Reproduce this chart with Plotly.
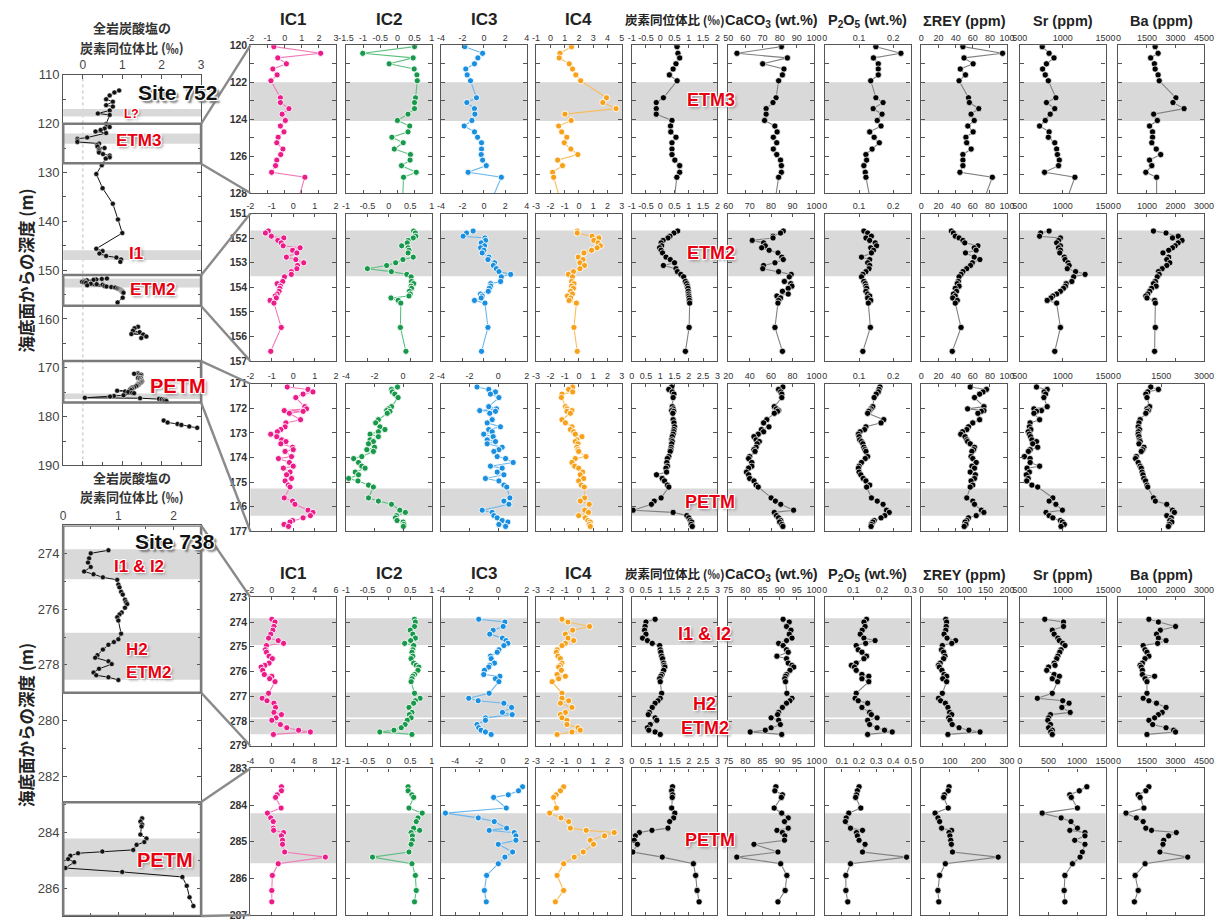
import math
import plotly.graph_objects as go

W, H = 1222, 924

# ================= DATA =================
# ---- Site 752, window 120-128 m (row 1) ----
r1_depth = [120.07, 120.43, 120.68, 121.0, 121.28, 121.6, 121.92, 122.84, 123.1, 123.43, 123.73, 124.07,
            124.37, 124.69, 124.98, 125.28, 125.62, 125.92, 126.22, 126.52, 126.88, 127.15, 128.5]
r1_ic1 = [-0.63, 2.1, -0.4, 0.1, -0.69, -0.44, -0.8, -0.25, -0.25, 0.25, -0.15, 0.04, -0.25, -0.04, -0.38,
          -0.46, -0.1, -0.23, -0.46, -0.53, -0.76, 1.18, 0.74]
r1_ic2 = [0.5, -1.01, 0.46, -0.24, 0.49, 0.57, 0.58, 0.53, 0.5, 0.5, 0.31, 0.0, 0.36, 0.31, -0.16, 0.17,
          -0.09, 0.38, 0.37, 0.12, 0.55, 0.18, 0.15]
r1_ic3 = [-1.78, -0.12, -0.56, -0.88, -1.69, -1.56, -1.25, -0.69, -1.59, -0.88, -0.84, -1.12, -1.84, -0.88,
          -0.59, -0.22, -0.22, -0.25, -0.12, 0.22, -1.47, 1.63, 0.63]
r1_ic4 = [1.48, 0.67, 0.62, 1.32, 1.55, 1.78, 2.12, 3.93, 3.67, 4.6, 1.02, 1.45, 0.58, 0.79, 1.15, 0.97,
          1.43, 1.92, 0.51, 0.85, 0.16, 0.23, 0.74]
r1_d13c = [0.59, 0.62, 0.68, 0.55, 0.45, 0.32, 0.59, 0.11, -0.14, -0.14, -0.14, 0.41, 0.36, 0.37, 0.55,
           0.41, 0.41, 0.41, 0.51, 0.68, 0.68, 0.58, 0.48]
r1_caco3 = [81, 55.1, 84.5, 70.1, 82.5, 81.6, 79.4, 77.9, 76.1, 72.1, 72.1, 71.2, 77.2, 78.5, 76.3, 78.3,
            76.3, 78.3, 80.5, 81, 81, 79.4, 77.2]
r1_p2o5 = [0.149, 0.222, 0.142, 0.156, 0.156, 0.156, 0.134, 0.149, 0.170, 0.141, 0.167, 0.153, 0.164, 0.131,
           0.144, 0.159, 0.138, 0.120, 0.122, 0.114, 0.118, 0.120, 0.134]
r1_rey = [48.5, 94.7, 49.8, 60.4, 45.4, 51.5, 44, 55, 56, 67, 58, 61.7, 54.2, 60.4, 52, 52.9, 58.1, 48.5,
          48.5, 48.5, 45, 82.8, 72]
r1_sr = [761, 841, 898, 810, 765, 796, 832, 920, 810, 907, 854, 796, 730, 841, 832, 907, 929, 938, 960, 951,
         788, 1142, 1036]
r1_ba = [1929, 2084, 1695, 1890, 1929, 2084, 2143, 3019, 2864, 3448, 1851, 2045, 1636, 1792, 1792, 1753,
         1987, 2221, 1636, 1753, 1441, 2006, 2006]

# ---- Site 752, window 151-157 m (row 2) ----
r2_depth = [151.71, 151.79, 151.92, 151.99, 152.09, 152.19, 152.31, 152.39, 152.49, 152.60, 152.77, 152.87,
            153.00, 153.11, 153.24, 153.36, 153.47, 153.57, 153.76, 153.85, 153.95, 154.04, 154.16, 154.27,
            154.35, 154.43, 154.53, 154.64, 155.63, 156.60]
r2_ic1 = [-1.16, -1.3, -1.02, -0.44, -0.72, -0.56, -0.47, 0.32, -0.03, 0.17, -0.32, 0.12, 0.49, 0.2, 0.17,
          -0.09, -0.09, -0.41, -0.49, -0.75, -0.6, -0.63, -0.66, -0.75, -0.84, -0.79, -1.08, -0.9, -0.56, -1.05]
r2_ic2 = [0.58, 0.62, 0.63, 0.57, 0.45, 0.43, 0.3, 0.45, 0.47, 0.45, 0.57, 0.33, 0.16, -0.05, -0.5, 0.06,
          0.42, 0.52, 0.53, 0.58, 0.52, 0.53, 0.48, 0.5, 0.47, 0.05, 0.22, 0.28, 0.27, 0.4]
r2_ic3 = [-1.0, -1.62, -1.94, 0.1, 0.16, -0.25, 0.06, -0.31, 0.0, -0.16, 0.47, 0.38, 1.0, 0.88, 1.16, 1.41,
          2.5, 1.63, 1.56, 0.63, 0.63, 0.5, 0.41, -0.31, -0.16, -0.25, -0.88, 0.1, 0.38, -0.22]
r2_ic4 = [-0.12, -0.12, 0.92, 1.39, 1.04, 1.34, 1.5, 1.27, 0.88, 0.35, -0.05, 0.28, 0.07, 0.39, 0.07, -0.39,
          -0.74, -0.46, -0.51, -0.35, -0.51, -0.39, -0.58, -0.46, -0.81, -0.58, -0.69, -0.18, -0.35, -0.12]
r2_d13c = [0.61, 0.48, 0.34, 0.27, 0.1, 0.03, 0.05, -0.02, 0.03, 0.08, 0.2, 0.35, 0.5, 0.11, 0.55, 0.6, 0.72,
           0.82, 0.88, 0.92, 0.95, 0.97, 0.98, 0.99, 1.0, 1.01, 1.02, 1.03, 1.01, 0.88]
r2_caco3 = [85.7, 84.4, 80.9, 80.9, 71.2, 76.5, 77.3, 75.6, 79.1, 83.2, 85, 85.7, 81.8, 76.5, 76.1, 83.5,
            89.4, 88.5, 86.2, 89.2, 89.7, 88, 85.3, 88, 82.7, 84.4, 83.5, 83.2, 81.8, 85.3]
r2_p2o5 = [0.114, 0.125, 0.136, 0.12, 0.131, 0.147, 0.151, 0.134, 0.142, 0.136, 0.107, 0.131, 0.125, 0.131,
           0.129, 0.12, 0.111, 0.107, 0.114, 0.118, 0.12, 0.122, 0.12, 0.125, 0.131, 0.125, 0.134, 0.127,
           0.133, 0.111]
r2_rey = [35, 37.4, 39.6, 44, 48.5, 50.7, 66, 61.7, 63.9, 51.5, 61.7, 68.3, 59.5, 57.3, 52.9, 48.5, 46.3, 44,
          43.2, 41.9, 44, 39.6, 41, 37.4, 39.6, 36.6, 41.9, 39.6, 46.3, 36.1]
r2_sr = [841, 743, 730, 973, 951, 929, 973, 951, 973, 965, 1018, 1027, 1062, 1075, 1053, 1150, 1261, 1128,
         1106, 1040, 1031, 1009, 973, 929, 885, 863, 819, 929, 973, 907]
r2_ba = [1227, 1667, 2093, 1893, 2227, 2093, 1987, 1893, 1760, 1560, 1760, 1693, 1800, 1693, 1533, 1400,
         1427, 1360, 1293, 1227, 1320, 1160, 1093, 1027, 960, 1000, 1267, 1293, 1293, 1267]

# ---- Site 752, window 171-177 m (row 3) ----
r3_depth = [171.13, 171.23, 171.33, 171.42, 171.56, 171.93, 172.02, 172.09, 172.12, 172.20, 172.46, 172.59,
            172.75, 172.86, 172.95, 173.05, 173.15, 173.28, 173.35, 173.44, 173.58, 173.68, 173.75, 173.96,
            174.04, 174.20, 174.35, 174.43, 174.59, 174.70, 174.85, 174.95, 175.12, 175.20, 175.64, 175.77,
            175.90, 176.14, 176.23, 176.36, 176.45, 176.56, 176.62, 176.72, 176.80]
r3_ic1 = [-0.28, 0.69, 0.92, 0.46, 0.12, 0.54, 0.62, -0.42, 0.46, -0.18, 0.34, -0.34, -0.38, -0.58, -0.74,
          -1.05, -0.77, -0.54, -0.34, -0.58, -0.03, 0.0, -0.38, -0.08, -0.69, -0.18, 0.0, -0.46, -0.15, -0.31,
          -0.08, -0.38, -0.23, -0.15, -0.42, -0.03, 0.08, 0.69, 0.92, 0.80, 0.46, -0.03, -0.15, -0.43, -0.22]
r3_ic2 = [-0.39, -0.81, -0.76, -0.58, -0.35, -0.81, -1.04, -1.15, -0.92, -1.11, -1.73, -1.92, -1.62, -1.27,
          -1.73, -2.31, -1.73, -2.31, -2.08, -2.42, -2.0, -2.54, -2.08, -2.89, -3.46, -3.12, -2.89, -2.66,
          -3.35, -3.12, -3.81, -3.16, -2.42, -2.08, -2.42, -1.73, -0.81, -0.23, 0.16, -0.46, -0.53, -0.42,
          0.0, 0.05, 0.02]
r3_ic3 = [-1.48, -0.66, -0.19, -0.54, 0.05, -0.66, -0.12, -1.29, -0.19, -0.59, -0.42, -0.77, 0.16, -0.66,
          -0.42, -1.01, -0.35, -0.77, -0.19, -0.77, 0.28, 0.05, -0.3, -0.07, 0.52, 1.05, -0.54, 0.28, -0.07,
          0.4, -0.89, 0.05, 0.4, 0.6, 0.82, 0.4, 0.75, -1.12, -0.42, -0.3, -0.07, 0.28, 0.68, 0.05, 0.52]
r3_ic4 = [-0.44, -0.72, -0.44, -1.19, -1.23, -0.95, -0.84, -0.49, -0.84, -0.6, -1.19, -0.95, -0.49, -0.6,
          -0.37, -0.26, 0.21, -0.14, -0.26, -0.07, -0.14, -0.07, -0.02, 0.49, -0.26, -0.49, -0.3, -0.02, 0.26,
          0.09, 0.33, -0.02, 0.16, 0.37, 0.4, 0.09, 0.72, 0.4, 0.67, -0.02, 0.44, 0.63, 0.79, 0.72, 0.79]
r3_d13c = [1.40, 1.30, 1.42, 1.48, 1.45, 1.42, 1.45, 1.40, 1.47, 1.44, 1.45, 1.48, 1.50, 1.48, 1.47, 1.45,
           1.42, 1.40, 1.42, 1.40, 1.38, 1.37, 1.35, 1.30, 1.25, 1.23, 1.25, 1.20, 1.22, 0.87, 1.07, 1.15,
           1.25, 1.30, 1.03, 0.79, 0.69, 0.05, 1.45, 1.93, 2.0, 2.05, 2.1, 2.08, 2.12]
r3_caco3 = [71, 67, 69, 70, 70, 63, 65, 67, 66, 63, 56, 53, 58, 51, 53, 48, 44, 46, 49, 47, 46, 44, 45, 40,
            39, 42, 42, 39, 37, 39, 40, 44, 46, 48, 60, 64, 69, 81, 63, 65, 67, 69, 68, 70, 71]
r3_p2o5 = [0.161, 0.158, 0.156, 0.15, 0.144, 0.14, 0.135, 0.131, 0.128, 0.125, 0.172, 0.164, 0.12, 0.116,
           0.103, 0.098, 0.1, 0.102, 0.107, 0.111, 0.114, 0.117, 0.12, 0.125, 0.118, 0.107, 0.1, 0.098, 0.1,
           0.105, 0.112, 0.12, 0.131, 0.122, 0.136, 0.153, 0.17, 0.18, 0.188, 0.175, 0.164, 0.144, 0.14,
           0.136, 0.135]
r3_rey = [57, 76, 72, 68, 62, 73, 54, 73, 70, 66, 68, 60, 55, 53, 48, 46, 51, 53, 54, 57, 62, 61, 59, 58, 60,
          64, 59, 62, 57, 63, 62, 58, 60, 57, 53, 60, 62, 70, 73, 64, 55, 53, 51, 52, 50]
r3_sr = [694, 819, 783, 800, 780, 819, 664, 752, 694, 664, 730, 619, 611, 628, 597, 611, 625, 640, 694, 650,
         708, 620, 600, 553, 619, 620, 730, 584, 611, 575, 597, 580, 640, 708, 885, 841, 920, 996, 805, 841,
         885, 973, 996, 1018, 980]
r3_ba = [1133, 1400, 1027, 960, 1000, 1093, 1000, 1050, 1000, 960, 760, 720, 693, 740, 700, 693, 720, 740,
         760, 720, 893, 850, 800, 627, 600, 693, 760, 800, 830, 860, 893, 950, 1000, 1027, 1227, 1293, 1693,
         1893, 1960, 1693, 1850, 1800, 1870, 1780, 1750]

# ---- Site 738, window 273-279 m (row 4) ----
r4_depth = [273.89, 274.0, 274.18, 274.33, 274.49, 274.65, 274.75, 274.86, 274.95, 275.12, 275.22, 275.38,
            275.48, 275.66, 275.75, 275.82, 275.95, 276.12, 276.19, 276.29, 276.41, 276.88, 277.08, 277.18,
            277.28, 277.45, 277.65, 277.74, 277.87, 277.97, 278.14, 278.27, 278.37, 278.44, 278.54]
r4_ic1 = [0, 0.3, 0.2, 0.1, -0.1, -0.3, 0.6, 1.1, -0.5, -0.6, -0.5, -0.25, 0.05, -0.25, -0.65, -1.0, -0.85,
          -0.7, 0, -0.2, 0.3, -0.3, -0.9, -0.45, 0.2, 0.35, 0.2, 0.9, 0.4, 0, 0.8, 1.4, 2.5, 3.6, 0.15]
r4_ic2 = [0.6, 0.62, 0.6, 0.5, 0.56, 0.62, 0.51, 0.37, 0.58, 0.56, 0.54, 0.56, 0.52, 0.58, 0.64, 0.7, 0.68,
          0.6, 0.56, 0.54, 0.52, 0.6, 0.73, 0.62, 0.58, 0.47, 0.54, 0.48, 0.52, 0.43, 0.38, 0.29, 0.12, -0.21,
          0.54]
r4_ic3 = [-1.36, 0.47, 0.35, -0.35, -0.59, 0.3, 0.55, 0.68, 0.4, 0.05, -0.07, -0.54, -0.49, -0.26, -0.59,
          -0.66, -0.96, -1.01, 0.12, -0.19, 0.05, -0.63, -2.06, -1.4, 0.4, 0.94, 0.3, 0.98, -0.89, -0.89,
          -1.48, -1.36, -1.2, -0.89, -0.49]
r4_ic4 = [-1.19, -0.77, 0.74, -0.44, -0.95, -0.77, -0.37, -0.95, -1.19, -1.53, -1.58, -1.47, -1.3, -1.19,
          -1.3, -1.42, -1.23, -1.53, -0.95, -1.42, -1.88, -1.19, -1.19, -0.72, -1.3, -0.49, -0.95, -1.3, -1.19,
          -0.84, -0.84, -0.07, 0.09, -0.49, -1.53]
r4_d13c = [0.82, 0.5, 0.47, 0.45, 0.5, 0.38, 0.55, 0.72, 0.98, 1.0, 1.02, 1.05, 1.08, 1.12, 1.14, 1.16, 1.12,
           1.06, 1.02, 0.98, 1.0, 1.05, 1.0, 0.92, 0.82, 0.72, 0.62, 0.58, 0.82, 0.88, 0.65, 0.55, 0.6, 0.82,
           1.0]
r4_caco3 = [91, 92.8, 92, 93.3, 92.8, 93.6, 92, 89.7, 91, 92, 92.5, 89.2, 92, 92.5, 93.6, 94.1, 93, 92, 91.7,
            91.5, 91.7, 92.1, 93.6, 93, 92, 90.8, 89.7, 89.4, 87.5, 89.7, 90.2, 87.5, 85.8, 81.4, 90.6]
r4_p2o5 = [0.146, 0.137, 0.141, 0.131, 0.124, 0.137, 0.176, 0.143, 0.11, 0.117, 0.13, 0.146, 0.137, 0.11,
           0.093, 0.104, 0.11, 0.13, 0.154, 0.13, 0.154, 0.11, 0.106, 0.117, 0.15, 0.13, 0.157, 0.163, 0.183,
           0.15, 0.157, 0.183, 0.209, 0.236, 0.15]
r4_rey = [57, 59, 58, 57, 53, 60, 80, 71, 49, 47, 52, 55, 52, 44, 40, 42, 48, 53, 59, 50, 59, 49, 40, 45, 56,
          62, 66, 71, 64, 67, 72, 88, 111, 137, 62]
r4_sr = [791, 1009, 1009, 878, 900, 943, 960, 1000, 1026, 980, 965, 943, 930, 900, 910, 835, 813, 900, 961,
         878, 940, 878, 704, 1000, 1074, 990, 1087, 857, 835, 826, 857, 835, 878, 860, 878]
r4_ba = [1067, 1400, 2000, 1467, 1333, 1400, 1667, 1373, 867, 933, 1000, 1067, 933, 840, 760, 800, 840, 840,
         1267, 933, 1000, 1000, 867, 1067, 1333, 1667, 1533, 1400, 1267, 1067, 1200, 1667, 1933, 2000, 1000]

# ---- Site 738, window 283-287 m (row 5) ----
r5_depth = [283.50, 283.61, 283.72, 283.79, 284.08, 284.22, 284.35, 284.45, 284.63, 284.69, 284.75, 284.84,
            284.96, 285.07, 285.28, 285.42, 285.60, 285.92, 286.33, 286.64]
r5_ic1 = [1.8, 1.8, 1.0, 0.7, 1.74, -0.82, -0.2, 0.27, 0.27, 0.35, 2.2, 1.8, 2.0, 2.0, 2.4, 10.0, 1.2, 0.1,
          0.0, 0.0]
r5_ic2 = [0.45, 0.45, 0.54, 0.58, 0.47, 0.78, 0.68, 0.64, 0.58, 0.72, 0.52, 0.55, 0.55, 0.52, 0.47, -0.38,
          0.54, 0.62, 0.64, 0.6]
r5_ic3 = [1.65, 1.31, 0.45, -0.78, 0.28, -4.83, -2.07, -0.73, 0.31, -1.15, 0.95, 1.09, 1.09, -0.39, 0.81,
          0.17, -0.39, -1.37, -1.56, -1.4]
r5_ic4 = [-1.07, -1.3, -1.6, -1.77, -1.58, -2.05, -1.26, -0.72, -0.6, 0.51, 2.47, 1.79, 0.79, 1.02, 0.3,
          -0.33, -1.07, -1.53, -1.07, -1.65]
r5_d13c = [1.43, 1.4, 1.43, 1.42, 1.4, 1.51, 1.47, 1.33, 1.27, 0.71, 0.27, 0.13, 0.09, 0.2, 0.04, 1.07, 2.16,
           2.24, 2.29, 2.36]
r5_caco3 = [88.9, 88.6, 90.8, 90.5, 88.4, 90.6, 92.5, 91.4, 92.5, 89.2, 90.8, 91.5, 91.4, 82.5, 89.5, 77.5,
            90.3, 92.1, 91.6, 89.5]
r5_p2o5 = [0.2, 0.19, 0.185, 0.18, 0.21, 0.14, 0.125, 0.12, 0.15, 0.22, 0.185, 0.19, 0.2, 0.235, 0.22, 0.477,
           0.15, 0.123, 0.123, 0.134]
r5_rey = [97, 94, 81, 78, 94, 48, 58, 64, 71, 106, 97, 100, 103, 105, 109, 269, 84, 64, 58, 61]
r5_sr = [1172, 1040, 874, 900, 1007, 391, 722, 894, 1007, 874, 1139, 1139, 960, 1139, 1093, 1053, 921, 788,
         775, 788]
r5_ba = [1600, 1440, 1040, 1140, 1340, 400, 940, 1300, 1440, 1740, 3040, 2640, 2380, 2340, 2180, 3640, 1400,
         880, 1040, 840]

# ---- Site 752 bulk-carbonate d13C outside the detail windows ----
s752_top_depth = [113.2, 113.6, 114.2, 115.0, 115.5, 116.2, 116.5, 117.3, 117.9, 118.2]
s752_top_d13c = [0.92, 0.80, 0.68, 0.59, 0.76, 0.59, 0.76, 0.68, 0.38, 0.68]
s752_mid_depth = [130.3, 133.2, 136.4, 139.6, 142.4, 145.6, 146.1, 146.6, 147.1, 147.4, 147.8, 148.3]
s752_mid_d13c = [0.34, 0.5, 0.76, 0.89, 1.0, 0.34, 0.5, 0.42, 0.59, 0.85, 0.97, 0.95]
s752_162_depth = [161.6, 161.9, 162.4, 162.7, 163.1, 163.2, 163.6, 163.9]
s752_162_d13c = [1.4, 1.31, 1.27, 1.44, 1.23, 1.53, 1.61, 1.48]
s752_181_depth = [180.8, 181.2, 181.5, 181.7, 182.0, 182.3]
s752_181_d13c = [2.05, 2.15, 2.4, 2.5, 2.7, 2.9]

# ---- labels / axis settings ----
col_titles = ["IC1", "IC2", "IC3", "IC4", "炭素同位体比 (‰)", "CaCO<sub>3</sub> (wt.%)",
              "P<sub>2</sub>O<sub>5</sub> (wt.%)", "ΣREY (ppm)", "Sr (ppm)", "Ba (ppm)"]
row_xranges = [
    [(-2, 3, 1), (-1.5, 1, 0.5), (-4, 4, 2), (-1, 5, 1), (-1, 2, 0.5), (50, 100, 10), (0, 0.25, 0.1),
     (0, 100, 20), (500, 1500, 500), (0, 4500, 1500)],
    [(-2, 2, 1), (-1, 1, 0.5), (-4, 4, 2), (-3, 3, 1), (-1, 2, 0.5), (60, 100, 10), (0, 0.25, 0.1),
     (0, 100, 20), (500, 1500, 500), (0, 3000, 1000)],
    [(-2, 2, 1), (-4, 2, 2), (-4, 2, 2), (-3, 3, 1), (0, 3, 0.5), (20, 100, 20), (0, 0.25, 0.1),
     (0, 100, 20), (500, 1500, 500), (0, 3000, 1500)],
    [(-2, 6, 2), (-1, 1, 0.5), (-4, 2, 2), (-3, 3, 1), (0, 3, 0.5), (75, 100, 5), (0, 0.3, 0.1),
     (0, 200, 50), (500, 1500, 500), (0, 3000, 1000)],
    [(-4, 12, 4), (-1, 1, 0.5), (-5.2, 2, 2), (-3, 3, 1), (0, 3, 0.5), (75, 100, 5), (0, 0.5, 0.1),
     (0, 300, 100), (0, 1500, 500), (0, 4500, 1500)],
]
row_yranges = [(120, 128, 2), (151, 157, 1), (171, 177, 1), (273, 279, 1), (283, 287, 1)]
row_bands = [[(122.0, 124.1)], [(151.69, 153.55)], [(175.26, 176.37)],
             [(273.85, 274.93), (276.85, 277.86), (277.92, 278.53)], [(284.22, 285.59)]]
ov752_bands = [(117.0, 118.5), (122.0, 124.1), (145.9, 147.9), (151.69, 153.55), (175.26, 176.37)]
ov738_bands = [(273.85, 274.93), (276.85, 278.53), (284.22, 285.59)]
ov752_boxes = [(120.0, 128.1), (151.0, 157.3), (168.6, 177.1)]
ov738_boxes = [(273.0, 279.0), (282.92, 287.0)]

rows = [
    (r1_depth, [r1_ic1, r1_ic2, r1_ic3, r1_ic4, r1_d13c, r1_caco3, r1_p2o5, r1_rey, r1_sr, r1_ba]),
    (r2_depth, [r2_ic1, r2_ic2, r2_ic3, r2_ic4, r2_d13c, r2_caco3, r2_p2o5, r2_rey, r2_sr, r2_ba]),
    (r3_depth, [r3_ic1, r3_ic2, r3_ic3, r3_ic4, r3_d13c, r3_caco3, r3_p2o5, r3_rey, r3_sr, r3_ba]),
    (r4_depth, [r4_ic1, r4_ic2, r4_ic3, r4_ic4, r4_d13c, r4_caco3, r4_p2o5, r4_rey, r4_sr, r4_ba]),
    (r5_depth, [r5_ic1, r5_ic2, r5_ic3, r5_ic4, r5_d13c, r5_caco3, r5_p2o5, r5_rey, r5_sr, r5_ba]),
]

# ================= LAYOUT GEOMETRY (pixels) =================
COL_X = [246, 343, 439.5, 536, 633, 731, 829, 927, 1027, 1127]
COL_W = 87
ROW_Y = [(39, 189), (210, 360), (383, 533), (600, 751), (774, 923)]
OV_X = (56, 196)
OV752_Y = (69, 466)
OV738_Y = (527, 924)

IC_MARK = ["#ec1b8a", "#17984a", "#1a8fe0", "#f7a11a"]
IC_LINE = ["#f27ab6", "#5cbf80", "#6ab6ee", "#f9bd5e"]

SANS = "Liberation Sans, Arial, sans-serif"
CJK = "Noto Sans CJK JP, sans-serif"
RED = "#e60012"
OUTLINE = "-1px -1px 0 #fff, 1px -1px 0 #fff, -1px 1px 0 #fff, 1px 1px 0 #fff, 2px 2px 3px #888"
SITE_SH = "-1px -1px 0 #fff, 1px -1px 0 #fff, -1px 1px 0 #fff, 1px 1px 0 #fff, 3px 3px 2px #777"


def fx(p):
    return p / W


def fy(p):
    return 1 - p / H


def ticks(lo, hi, step):
    out = []
    k = math.ceil(round(lo / step, 6))
    while k * step <= hi + 1e-9:
        out.append(round(k * step, 6))
        k += 1
    return out


def lab(v):
    return f"{v:g}"


fig = go.Figure()
layout = dict(width=W, height=H, margin=dict(l=0, r=0, t=0, b=0, pad=0), autosize=False,
              paper_bgcolor="white", plot_bgcolor="rgba(0,0,0,0)", showlegend=False,
              font=dict(family=SANS, color="#333"))
shapes, annotations = [], []

AXLINE = dict(showline=True, linecolor="#555", linewidth=1.2, mirror="ticks", ticks="inside",
              tickcolor="#555", ticklen=4, showgrid=False, zeroline=False)


def axname(n, kind):
    return kind + ("axis" if n == 1 else f"axis{n}")


def axref(n, kind):
    return kind if n == 1 else f"{kind}{n}"


# ---- overview panels ----
ov_specs = [
    (1, OV752_Y, (-0.5, 3), (190, 110), 10, 5, [0, 1, 2, 3]),
    (2, OV738_Y, (0, 2.5), (287, 273), 2, 1, [0, 1, 2]),
]
for n, (yt, yb), xr, yr, ydt, ymin, xt in ov_specs:
    layout[axname(n, "x")] = dict(AXLINE, domain=[fx(OV_X[0]), fx(OV_X[1])], range=list(xr),
                                  anchor=axref(n, "y"), side="top", tickvals=xt,
                                  ticktext=[lab(v) for v in xt],
                                  tickfont=dict(size=12, color="#444"),
                                  minor=dict(dtick=0.5, ticks="inside", ticklen=3, tickcolor="#555"))
    yv = ticks(min(yr), max(yr), ydt)
    layout[axname(n, "y")] = dict(AXLINE, domain=[fy(yb), fy(yt)], range=list(yr),
                                  anchor=axref(n, "x"), tickvals=yv, ticktext=[lab(v) for v in yv],
                                  tickfont=dict(size=13, color="#444"),
                                  minor=dict(dtick=ymin, ticks="inside", ticklen=3, tickcolor="#555"))

# dotted zero line in Site 752 overview
shapes.append(dict(type="line", xref="x", yref="y domain", x0=0, x1=0, y0=0, y1=1,
                   line=dict(color="#bbbbbb", width=1, dash="dot"), layer="below"))
for (a, b) in ov752_bands:
    shapes.append(dict(type="rect", xref="x domain", yref="y", x0=0, x1=1, y0=a, y1=b,
                       fillcolor="#d9d9d9", line=dict(width=0), layer="below"))
for (a, b) in ov738_bands:
    shapes.append(dict(type="rect", xref="x2 domain", yref="y2", x0=0, x1=1, y0=a, y1=b,
                       fillcolor="#d9d9d9", line=dict(width=0), layer="below"))

# overview traces
ov752_x = (s752_top_d13c + r1_d13c + s752_mid_d13c + [None] + r2_d13c + [None] + s752_162_d13c + [None]
           + r3_d13c + [None] + s752_181_d13c)
ov752_y = (s752_top_depth + r1_depth + s752_mid_depth + [None] + r2_depth + [None] + s752_162_depth + [None]
           + r3_depth + [None] + s752_181_depth)
ov738_x = r4_d13c + [None] + r5_d13c
ov738_y = r4_depth + [None] + r5_depth
for n, xs, ys in [(1, ov752_x, ov752_y), (2, ov738_x, ov738_y)]:
    fig.add_trace(go.Scatter(x=xs, y=ys, xaxis=axref(n, "x"), yaxis=axref(n, "y"), mode="lines+markers",
                             line=dict(color="#111", width=1),
                             marker=dict(size=5, color="#111", line=dict(color="white", width=0.5)),
                             hoverinfo="skip"))

# ---- detail panels ----
n = 3
for r, (depth, series) in enumerate(rows):
    yt, yb = ROW_Y[r]
    y0, y1, ydt = row_yranges[r]
    for c in range(10):
        lo, hi, step = row_xranges[r][c]
        tv = ticks(lo, hi, step)
        layout[axname(n, "x")] = dict(AXLINE, domain=[fx(COL_X[c]), fx(COL_X[c] + COL_W)], range=[lo, hi],
                                      anchor=axref(n, "y"), side="top", tickvals=tv,
                                      ticktext=[lab(v) for v in tv], ticklen=3,
                                      tickfont=dict(size=9, color="#333"))
        yv = ticks(y0, y1, ydt)
        layout[axname(n, "y")] = dict(AXLINE, domain=[fy(yb), fy(yt)], range=[y1, y0],
                                      anchor=axref(n, "x"), tickvals=yv, ticktext=[lab(v) for v in yv],
                                      showticklabels=(c == 0), ticklen=4,
                                      minor=dict(dtick=1, ticks="inside", ticklen=4, tickcolor="#555"),
                                      tickfont=dict(size=10.5, color="#333", weight="bold"))
        for (a, b) in row_bands[r]:
            shapes.append(dict(type="rect", xref=f"x{n} domain", yref=f"y{n}", x0=0, x1=1, y0=a, y1=b,
                               fillcolor="#d9d9d9", line=dict(width=0), layer="below"))
        if c < 4:
            lc, mc = IC_LINE[c], IC_MARK[c]
            mline = dict(color="white", width=0.9)
        else:
            lc, mc = "#808080", "#000000"
            mline = dict(color="white", width=0.7)
        fig.add_trace(go.Scatter(x=series[c], y=depth, xaxis=f"x{n}", yaxis=f"y{n}", mode="lines+markers",
                                 line=dict(color=lc, width=1.1), marker=dict(size=6.2, color=mc, line=mline),
                                 hoverinfo="skip"))
        n += 1

# ---- overview highlight boxes ----
for (a, b) in ov752_boxes:
    shapes.append(dict(type="rect", xref="x domain", yref="y", x0=0, x1=1, y0=a, y1=b,
                       line=dict(color="#7a7a7a", width=2.6), fillcolor="rgba(0,0,0,0)", layer="above"))
for (a, b) in ov738_boxes:
    shapes.append(dict(type="rect", xref="x2 domain", yref="y2", x0=0, x1=1, y0=a, y1=b,
                       line=dict(color="#7a7a7a", width=2.6), fillcolor="rgba(0,0,0,0)", layer="above"))

# ---- connector lines (overview box corners -> detail rows) ----
box_px = [(118.7, 159.3), (272.7, 304), (360, 402), (527, 697), (808, 924)]
for r in range(5):
    (bt, bb), (rt, rb) = box_px[r], ROW_Y[r]
    for (ya, yb_) in [(bt, rt), (bb, rb)]:
        shapes.append(dict(type="line", xref="paper", yref="paper", x0=fx(OV_X[1]), x1=fx(COL_X[0]),
                           y0=fy(ya), y1=fy(yb_), line=dict(color="#8a8a8a", width=2.4), layer="above"))


# ---- annotations ----
def ann(text, x, y, size, color="#222", family=SANS, bold=True, shadow=None, angle=0):
    f = dict(size=size, color=color, family=family)
    if bold:
        f["weight"] = "bold"
    if shadow:
        f["shadow"] = shadow
    annotations.append(dict(text=text, x=fx(x), y=fy(y), xref="paper", yref="paper", showarrow=False,
                            xanchor="center", yanchor="middle", font=f, textangle=angle))


for ty in (13, 576):
    for c, t in enumerate(col_titles):
        cx = COL_X[c] + COL_W / 2
        if c < 4:
            ann(t, cx, ty, 17)
        elif c == 4:
            ann(t, cx, ty, 12.5, family=CJK)
        else:
            ann(t, cx, ty + 1, 14.5)

for ytop in (21, 478):
    ann("全岩炭酸塩の", 126, ytop, 13, color="#333", family=CJK)
    ann("炭素同位体比 (‰)", 126, ytop + 20, 13, color="#333", family=CJK)
ann("海底面からの深度 (m)", 18, 268, 16.5, color="#222", family=CJK, angle=-90)
ann("海底面からの深度 (m)", 18, 730, 16.5, color="#222", family=CJK, angle=-90)
ann("Site 752", 172, 87, 21, color="#111", shadow=SITE_SH)
ann("Site 738", 169, 543, 21, color="#111", shadow=SITE_SH)

red_labels = [("L?", 125, 109, 12), ("ETM3", 132, 136, 17), ("I1", 130, 251, 17), ("ETM2", 147, 287, 17),
              ("PETM", 173, 385, 20), ("I1 &amp; I2", 133, 569, 17), ("H2", 131, 653, 17),
              ("ETM2", 143, 676, 17), ("PETM", 159, 867, 20),
              ("ETM3", 714, 95, 18), ("ETM2", 714, 250, 18), ("PETM", 712, 503, 18),
              ("I1 &amp; I2", 707, 637, 18), ("H2", 707, 709, 18), ("ETM2", 707, 733, 18),
              ("PETM", 713, 847, 18)]
for t, x, y, s in red_labels:
    ann(t, x, y, s, color=RED, shadow=OUTLINE)

layout["shapes"] = shapes
layout["annotations"] = annotations
fig.update_layout(**layout)

fig.write_html("out.html", config={"displayModeBar": False},
               post_script="document.body.style.margin='0';document.body.style.overflow='hidden';")
